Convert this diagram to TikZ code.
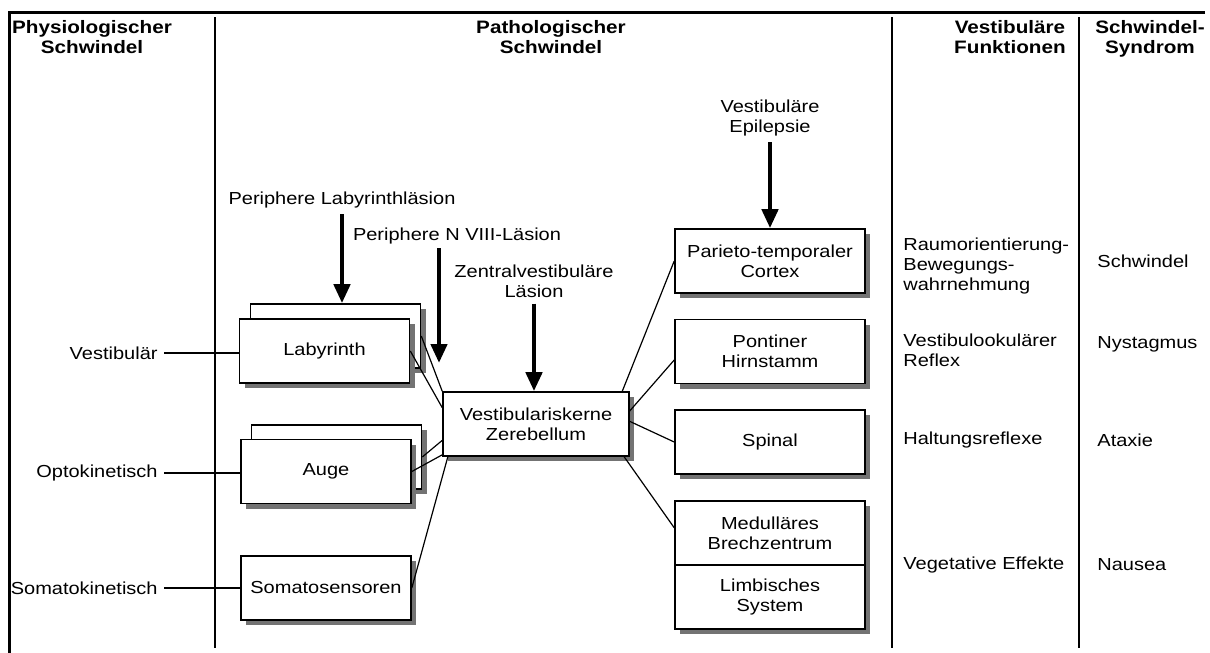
\documentclass[tikz,border=0pt]{standalone}
\usepackage{fontspec}
\setmainfont{Liberation Sans}[FakeStretch=1.15]
\usetikzlibrary{arrows.meta,calc}

\tikzset{
  box/.style={draw, line width=0.8pt, fill=white, inner sep=0pt, align=center,
    minimum height=32pt},
  boxshadow/.style={draw=none, fill=black!55, inner sep=0pt, minimum height=32pt},
  link/.style={line width=0.6pt},
  lesion/.style={line width=2.2pt, -{Triangle[length=9.5pt,width=8pt]}},
  head/.style={font=\fontsize{9}{10}\selectfont\bfseries, align=center, inner sep=0pt, anchor=north},
  txt/.style={align=left, inner sep=0pt, anchor=west},
  side/.style={anchor=east, inner sep=3pt},
}

\begin{document}
\begin{tikzpicture}[x=0.5pt, y=-0.5pt, font=\fontsize{8.7}{10}\selectfont]
\useasboundingbox (0,0) rectangle (1210,653);

\draw[line width=1.5pt] (8,12) -- (1205,12);
\draw[line width=1.5pt] (9,12) -- (9,653);
\foreach \x in {215,892,1079}
  \draw[line width=0.7pt] (\x,17) -- (\x,648);

\node[head] (hPhys) at (92,20) {Physiologischer\\Schwindel};
\node[head] (hPath) at (551,20) {Pathologischer\\Schwindel};
\node[head] (hFunk) at (1010,20) {Vestibuläre\\Funktionen};
\node[head] (hSyn) at (1150,20) {Schwindel-\\Syndrom};

% Kästen mit Schatten
\foreach \n/\x/\y/\w/\t in {
    labB/335.5/336/85/{}, lab/324.5/351/85/Labyrinth,
    augB/336.5/457/85/{}, aug/326/471.5/85/Auge,
    soma/326/588/85/Somatosensoren,
    vk/536/424/93/{Vestibulariskerne\\Zerebellum},
    par/770/261/95/{Parieto-temporaler\\Cortex},
    pon/770/351.5/95/{Pontiner\\Hirnstamm},
    spi/770/442/95/Spinal,
    med/770/533/95/{Medulläres\\Brechzentrum},
    lim/770/597/95/{Limbisches\\System}} {
  \node[boxshadow, minimum width=\w pt] (\n s) at (\x+5,\y+5) {};
  \node[box, minimum width=\w pt] (\n) at (\x,\y) {\t};
}

\node[side] (lVes) at (164,353) {Vestibulär};
\node[side] (lOpt) at (164,473) {Optokinetisch};
\node[side] (lSom) at (164,588) {Somatokinetisch};
\draw[link] (lVes.east) -- (lVes.east -| lab.west);
\draw[link] (lOpt.east) -- (lOpt.east -| aug.west);
\draw[link] (lSom.east) -- (lSom.east -| soma.west);

% Läsionen
\node[anchor=base, inner sep=3pt] (pl) at (342,204) {Periphere Labyrinthläsion};
\draw[lesion] (pl.south) -- (pl.south |- labB.north);
\node[anchor=base, inner sep=2pt] (nv) at (457,240) {Periphere N VIII-Läsion};
\coordinate (nvTip) at (439,363);
\draw[lesion] (nvTip |- nv.south) -- (nvTip);
\node[anchor=north, inner sep=3pt, align=center] (zv) at (534,258) {Zentralvestibuläre\\Läsion};
\draw[lesion] (zv.south) -- (zv.south |- vk.north);
\node[anchor=north, inner sep=3pt, align=center] (ep) at (770,93) {Vestibuläre\\Epilepsie};
\draw[lesion] (ep.south) -- (par.north);

\draw[link] (labB.east) -- (vk.north west);
\draw[link] (lab.east) -- ($(vk.north west)!0.25!(vk.south west)$);
\draw[link] (augB.east) -- ($(vk.north west)!0.75!(vk.south west)$);
\draw[link] (aug.east) -- ($(vk.north west)!0.97!(vk.south west)$);
\draw[link] (soma.east) -- ($(vk.south west)!0.03!(vk.south east)$);

\draw[link] ($(vk.north west)!0.96!(vk.north east)$) -- (par.west);
\draw[link] ($(vk.north east)!0.3!(vk.south east)$) -- ($(pon.north west)!0.63!(pon.south west)$);
\draw[link] ($(vk.north east)!0.46!(vk.south east)$) -- (spi.west);
\draw[link] ($(vk.south west)!0.97!(vk.south east)$) -- ($(med.north west)!0.42!(med.south west)$);

% Funktionen und Syndrome
\node[txt] (fRaum) at (903,266) {Raumorientierung-\\Bewegungs-\\wahrnehmung};
\node[txt] (fVor) at (903,350) {Vestibulookulärer\\Reflex};
\node[txt] (fHal) at (903,440) {Haltungsreflexe};
\node[txt] (fVeg) at (903,565) {Vegetative Effekte};
\node[txt] (sSch) at (1097,261) {Schwindel};
\node[txt] (sNys) at (1097,344) {Nystagmus};
\node[txt] (sAta) at (1097,440) {Ataxie};
\node[txt] (sNau) at (1097,565) {Nausea};
\end{tikzpicture}
\end{document}
